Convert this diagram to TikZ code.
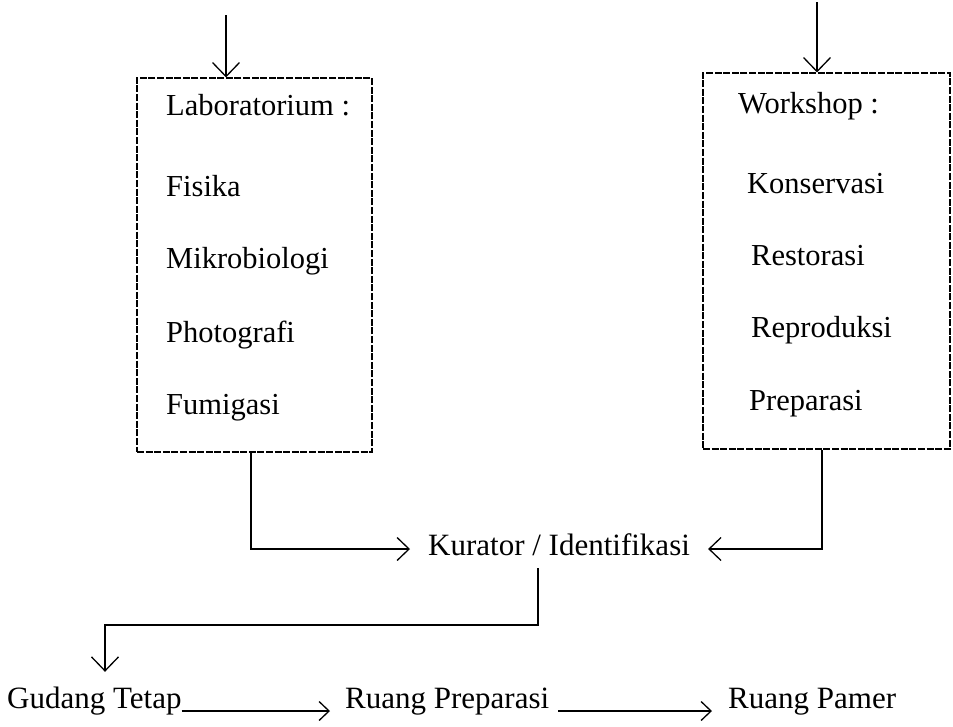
\documentclass[tikz,border=0pt]{standalone}
\usepackage{fontspec}
\setmainfont{Liberation Serif}
\usetikzlibrary{arrows.meta}
\begin{document}
\begin{tikzpicture}[x=1pt, y=-1pt,
  every node/.style={font=\fontsize{30.5}{36}\selectfont},
  item/.style={anchor=base west, inner sep=0pt},
  bigitem/.style={anchor=base west, inner sep=0pt, font=\fontsize{31}{36}\selectfont},
  roombox/.style={draw, line width=1.1pt, dash pattern=on 7pt off 1.6pt, inner sep=0pt},
  flow/.style={line width=1.3pt},
  arrdown/.style={flow, -{Straight Barb[length=14pt, width=27pt]}},
  arrside/.style={flow, -{Straight Barb[length=12pt, width=23pt]}},
  arrlow/.style={flow, -{Straight Barb[length=10pt, width=19pt]}}]
\useasboundingbox (0,0) rectangle (953,726);

% the two department boxes
\node[roombox, minimum width=235pt, minimum height=374pt] (lab) at (254.5,265) {};
\node[roombox, minimum width=247pt, minimum height=376pt] (ws) at (826.5,261) {};

% contents of the laboratory box
\node[item] (labT) at (166,115) {Laboratorium :};
\node[item] (lab1) at (166,196) {Fisika};
\node[item] (lab2) at (166,268) {Mikrobiologi};
\node[item] (lab3) at (166,342) {Photografi};
\node[item] (lab4) at (166,414) {Fumigasi};

% contents of the workshop box
\node[item] (wsT) at (738,113) {Workshop :};
\node[item] (ws1) at (747,193) {Konservasi};
\node[item] (ws2) at (751,265) {Restorasi};
\node[item] (ws3) at (751,337) {Reproduksi};
\node[item] (ws4) at (749,410) {Preparasi};

% curator
\node[anchor=base west, inner xsep=18pt, inner ysep=13pt, text height=20pt,
      text depth=0pt, font=\fontsize{31}{36}\selectfont] (kur) at (410,555)
      {Kurator / Identifikasi};

% storage and exhibition rooms
\node[bigitem, inner ysep=14pt, text height=22pt] (gud) at (7,708) {Gudang Tetap};
\node[bigitem] (rprep) at (345,708) {Ruang Preparasi};
\node[bigitem] (rpam) at (728,708) {Ruang Pamer};

% incoming arrows
\coordinate (inL) at (226,15);
\coordinate (inR) at (817,2);
\draw[arrdown] (inL) -- (inL |- lab.north);
\draw[arrdown] (inR) -- (inR |- ws.north);

% boxes to curator
\draw[arrside] ([xshift=-3.5pt]lab.south) |- ([yshift=6pt]kur.base west);
\draw[arrside] ([xshift=-4.5pt]ws.south) |- ([yshift=6pt]kur.base east);

% curator to storage
\coordinate (turn) at (105,625);
\draw[arrdown] ([xshift=-21pt]kur.south) |- (turn) -- (turn |- gud.north);

% storage to preparation to exhibition
\draw[arrlow] ([yshift=-3pt]gud.base east) -- ([yshift=-3pt, xshift=-15pt]rprep.base west);
\draw[arrlow] ([yshift=-3pt, xshift=9pt]rprep.base east) -- ([yshift=-3pt, xshift=-16pt]rpam.base west);
\end{tikzpicture}
\end{document}
